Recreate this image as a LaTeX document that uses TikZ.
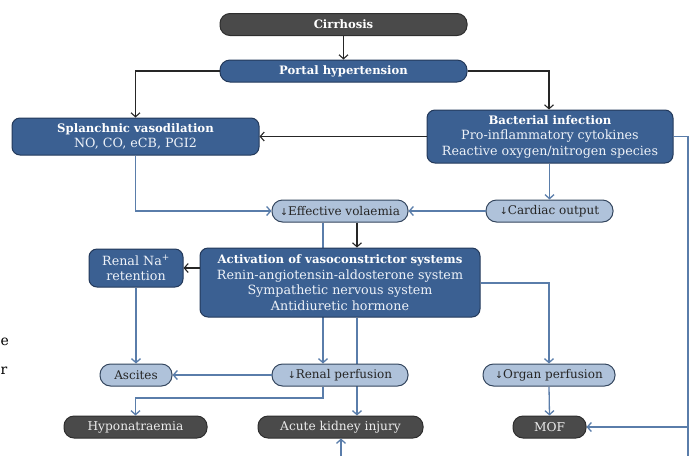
\documentclass[tikz,border=0pt]{standalone}
\usepackage{fontspec}
\setmainfont{DejaVu Serif}
\newfontfamily\arrfont{DejaVu Sans}
\usetikzlibrary{arrows.meta}
\pgfdeclarelayer{behind}
\pgfsetlayers{behind,main}
\definecolor{darkbox}{HTML}{4A4A4A}
\definecolor{darkedge}{HTML}{2E2E2E}
\definecolor{bluebox}{HTML}{3B6092}
\definecolor{blueedge}{HTML}{23395A}
\definecolor{lightbox}{HTML}{AFC2DA}
\definecolor{lightedge}{HTML}{34465E}
\definecolor{blueline}{HTML}{5A7DAA}
\definecolor{bluetext}{HTML}{EEF2F8}
\newcommand{\dn}{{\arrfont\fontsize{9.5}{9.5}\selectfont ↓}}
\newcommand{\ttl}[1]{{\fontsize{11.7}{15}\selectfont\bfseries\color{white}#1}}
\tikzset{
  base/.style={inner sep=0pt, align=center, font=\fontsize{12.2}{15}\selectfont, line width=1pt},
  darkpill/.style={base, fill=darkbox, draw=darkedge, rounded corners=10pt, text=white!92!black, minimum height=22pt},
  bluepill/.style={base, fill=bluebox, draw=blueedge, rounded corners=10pt, text=white, minimum height=22pt, font=\fontsize{11.6}{15}\selectfont},
  bluerect/.style={base, fill=bluebox, draw=blueedge, rounded corners=8pt, text=bluetext, font=\fontsize{12.7}{15.5}\selectfont},
  lightpill/.style={base, fill=lightbox, draw=lightedge, rounded corners=10.5pt, text=black!85, minimum height=22pt, font=\fontsize{12}{15}\selectfont},
  blk/.style={draw=black!85, line width=1.1pt, -{Straight Barb[length=4pt,width=9pt]}},
  blu/.style={draw=blueline, line width=1.3pt, -{Straight Barb[length=4pt,width=9pt]}},
  bluplain/.style={draw=blueline, line width=1.3pt},
  stray/.style={anchor=west, font=\fontsize{14}{14}\selectfont, inner sep=0pt, text=black},
}
\begin{document}
\begin{tikzpicture}[x=1pt,y=-1pt]
\useasboundingbox (0,0) rectangle (693,456);
% partial glyphs at the left edge
\node[stray] (se) at (0.5,342) {e};
\node[stray] (sr) at (0.5,371) {r};

\node[darkpill, minimum width=247pt, font=\fontsize{11.6}{15}\selectfont, text=white] (cir) at (343.5,24.5) {\textbf{Cirrhosis}};
\node[bluepill, minimum width=247pt] (ph) at (343.5,71) {\textbf{Portal hypertension}};
\node[bluerect, minimum width=247pt, minimum height=37pt] (sv) at (135.5,136.5)
  {\ttl{Splanchnic vasodilation}\\NO, CO, eCB, PGI2};
\node[bluerect, minimum width=246pt, minimum height=53pt] (bi) at (550,136.5)
  {\ttl{Bacterial infection}\\Pro-inflammatory cytokines\\Reactive oxygen/nitrogen species};
\node[lightpill, minimum width=136pt] (ev) at (340,211) {\dn Effective volaemia};
\node[lightpill, minimum width=127pt] (co) at (549.5,211) {\dn Cardiac output};
\node[bluerect, minimum width=280pt, minimum height=69pt] (act) at (340,282.5)
  {\ttl{Activation of vasoconstrictor systems}\\Renin-angiotensin-aldosterone system\\Sympathetic nervous system\\Antidiuretic hormone};
\node[bluerect, minimum width=94pt, minimum height=38pt] (na) at (136,268) {Renal Na\textsuperscript{+}\\retention};
\node[lightpill, minimum width=72pt] (asc) at (136,375) {Ascites};
\node[lightpill, minimum width=136pt] (rp) at (340,375) {\dn Renal perfusion};
\node[lightpill, minimum width=132pt] (op) at (549,375) {\dn Organ perfusion};
\node[darkpill, minimum width=143pt] (hyp) at (135.5,427) {Hyponatraemia};
\node[darkpill, minimum width=165pt] (aki) at (340.5,427) {Acute kidney injury};
\node[darkpill, minimum width=73pt] (mof) at (549.5,427) {MOF};

\coordinate (vl) at (323,0);
\coordinate (vr) at (357,0);
\coordinate (rb) at (688,456);
\coordinate (ab) at (341,456);

\begin{pgfonlayer}{behind}
\draw[blu] (ev.south -| vl) -- (rp.north -| vl);
\draw[blu] (act.south -| vr) -- (aki.north -| vr);
\end{pgfonlayer}

\draw[blk] (cir) -- (ph);
\draw[blk] (ph.west) -| (sv.north);
\draw[blk] (ph.east) -| (bi.north -| 549,0);
\draw[blk] (bi.west) -- (sv.east);
\draw[blu] (sv.south) |- (ev.west);
\draw[blu] (bi.south -| co.north) -- (co.north);
\draw[blu] (co.west) -- (ev.east);
\draw[blk] (ev.south -| vr) -- (act.north -| vr);
\draw[blk] (act.west |- na.east) -- (na.east);
\draw[blu] (na.south) -- (asc.north);
\draw[blu] (rp.west) -- (asc.east);
\draw[blu] (rp.south -| vl) -- (323,398) -| (hyp.north);
\draw[blu] (act.east |- 0,283) -| (op.north);
\draw[blu] (op.south) -- (mof.north);
\draw[bluplain] (bi.east) -| (rb);
\draw[blu] (688,427) -- (mof.east);
\draw[blu] (ab) -- (aki.south -| ab);
\end{tikzpicture}
\end{document}
